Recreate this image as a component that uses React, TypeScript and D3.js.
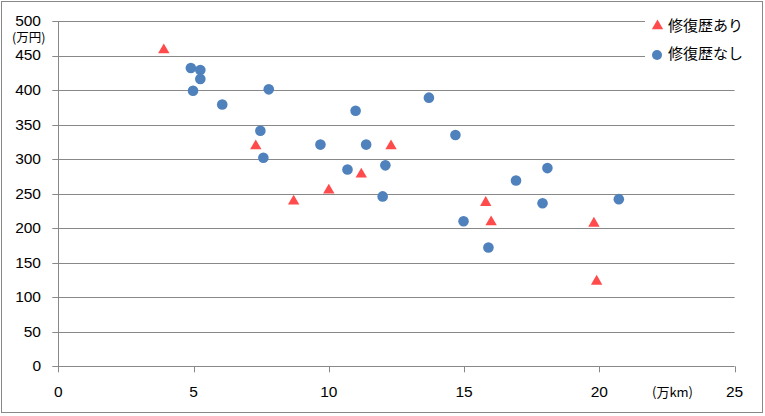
import React from "react";
import * as d3 from "d3";

const xTicks = [0, 5, 10, 15, 20, 25];
const yTicks = [0, 50, 100, 150, 200, 250, 300, 350, 400, 450, 500];

// 修復歴あり (triangles)
const repairedX = [3.9, 7.3, 8.7, 10.0, 11.2, 12.3, 15.8, 16.0, 19.8, 19.9];
const repairedY = [458, 319, 239, 255, 278, 319, 237, 209, 207, 123];

// 修復歴なし (circles)
const cleanX = [4.9, 5.25, 5.25, 4.98, 6.06, 7.78, 7.47, 7.58, 9.69, 10.99, 10.69, 11.38, 12.09, 11.99, 13.7, 14.68, 14.98, 15.9, 16.92, 17.9, 18.08, 20.72];
const cleanY = [432, 429, 416, 399, 379, 401, 341, 302, 321, 370, 285, 321, 291, 246, 389, 335, 210, 172, 269, 236, 287, 242];

const legendLabels = ["修復歴あり", "修復歴なし"];
const yTitle = "(万円)";
const xTitle = "(万km)";

const BLUE = "#4F81BD";
const RED = "#FF4B4B";
const GRID = "#888888";
const NUMFONT = "'Liberation Sans', Arial, sans-serif";
const JPFONT = "'Noto Sans CJK JP', sans-serif";

export default function App() {
  const W = 765, H = 416;
  const x = d3.scaleLinear().domain([0, 25]).range([58.3, 734.6]);
  const y = d3.scaleLinear().domain([0, 500]).range([366.3, 21]);
  const tri = d3.symbol().type(d3.symbolTriangle).size(56)();

  return (
    <svg width={W} height={H} style={{ position: "absolute", left: 0, top: 0, background: "#fff" }}>
      <rect x={1.5} y={1.5} width={761} height={411} fill="#fff" stroke={GRID} strokeWidth={1} />
      {/* grid */}
      {yTicks.map((t) => (
        <g key={"y" + t}>
          <line x1={x(0) - 6} x2={x(25)} y1={Math.round(y(t)) + 0.5} y2={Math.round(y(t)) + 0.5} stroke={GRID} strokeWidth={1} />
          <text x={41} y={y(t) - 0.5} dy="0.35em" textAnchor="end" fontFamily={NUMFONT} fontSize={15.5} fill="#000">
            {t}
          </text>
        </g>
      ))}
      {/* y axis line */}
      <line x1={Math.round(x(0)) + 0.5} x2={Math.round(x(0)) + 0.5} y1={y(500)} y2={y(0) + 5} stroke={GRID} strokeWidth={1} />
      {/* x ticks */}
      {xTicks.map((t) => (
        <g key={"x" + t}>
          <line x1={Math.round(x(t)) + 0.5} x2={Math.round(x(t)) + 0.5} y1={y(0)} y2={y(0) + 6} stroke={GRID} strokeWidth={1} />
          <text x={x(t)} y={392} dy="0.35em" textAnchor="middle" fontFamily={NUMFONT} fontSize={15.5} fill="#000">
            {t}
          </text>
        </g>
      ))}
      {/* axis titles */}
      <text x={12} y={38} dy="0.35em" fontFamily={JPFONT} fontSize={12.5} fill="#000">{yTitle}</text>
      <text x={652} y={392} dy="0.35em" fontFamily={JPFONT} fontSize={13} fill="#000">{xTitle}</text>
      {/* legend background */}
      <rect x={645} y={10} width={110} height={62} fill="#fff" />
      {/* points */}
      {cleanX.map((v, i) => (
        <circle key={"c" + i} cx={x(v)} cy={y(cleanY[i])} r={5.3} fill={BLUE} />
      ))}
      {repairedX.map((v, i) => (
        <path key={"t" + i} d={tri} transform={`translate(${x(v)},${y(repairedY[i])})`} fill={RED} />
      ))}
      {/* legend */}
      <path d={tri} transform="translate(657.5,26)" fill={RED} />
      <text x={668} y={26} dy="0.35em" fontFamily={JPFONT} fontSize={15} fill="#000">{legendLabels[0]}</text>
      <circle cx={657} cy={55} r={5} fill={BLUE} />
      <text x={668} y={54} dy="0.35em" fontFamily={JPFONT} fontSize={15} fill="#000">{legendLabels[1]}</text>
    </svg>
  );
}
